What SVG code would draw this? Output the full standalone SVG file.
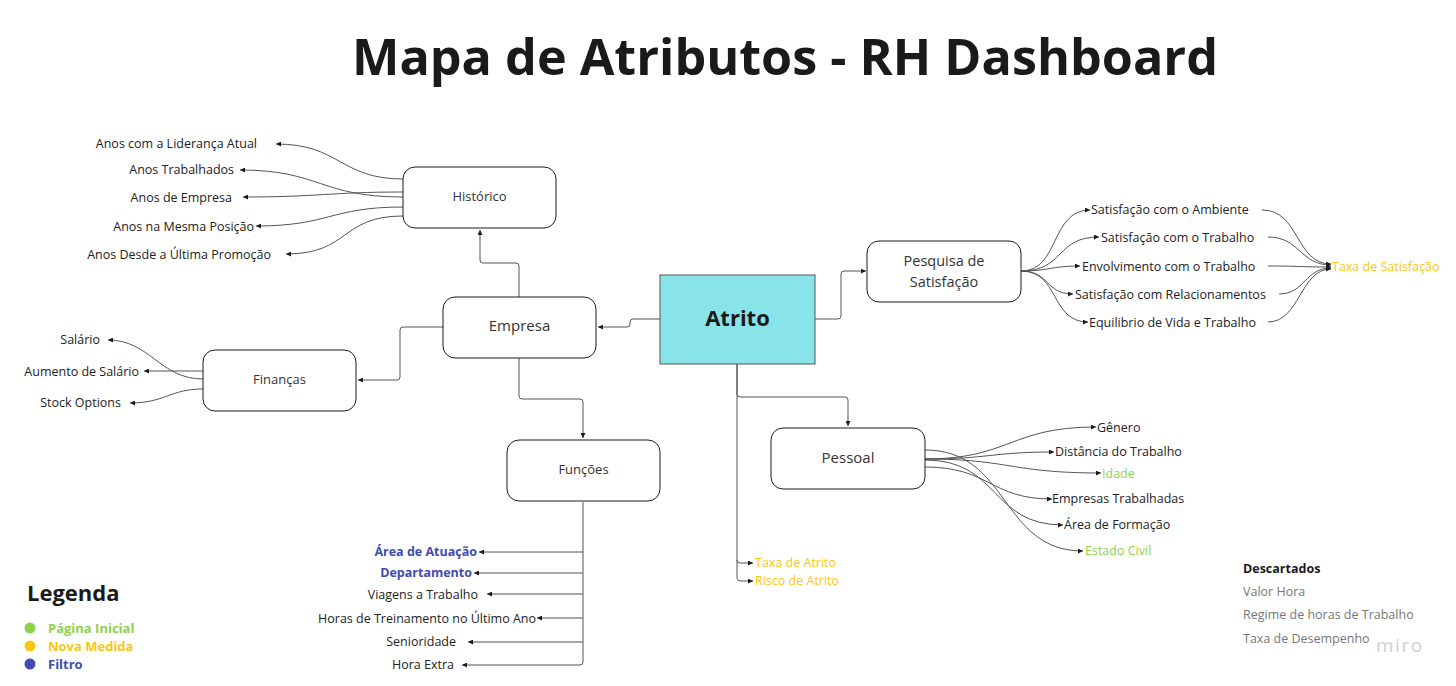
<svg xmlns="http://www.w3.org/2000/svg" width="1456" height="686" viewBox="0 0 1456 686">
<defs>
<marker id="ah" viewBox="0 0 6 6" refX="6" refY="3" markerWidth="5" markerHeight="5" orient="auto" markerUnits="userSpaceOnUse">
<path d="M0,0 L6,3 L0,6 Z" fill="#1a1a1a"/>
</marker>
<style>
text{font-family:"Open Sans","Noto Sans","Liberation Sans",sans-serif;fill:#1a1a1a}
.node rect{fill:#fff;stroke:#1a1a1a;stroke-width:1}
.lbl{font-size:12.5px;fill:#222}
.nt{font-size:13px;text-anchor:middle;fill:#333}
.c{fill:none;stroke:#555;stroke-width:1}
.ca{fill:none;stroke:#555;stroke-width:1;marker-end:url(#ah)}
.y{fill:#FAC710}
.g{fill:#8FD14F}
.b{fill:#414BB2;font-weight:bold}
.gr{fill:#777;font-size:12.5px}
.wm{fill:#cfcfcf;font-size:19px;letter-spacing:1.5px}
</style>
</defs>
<rect width="1456" height="686" fill="#fff"/>
<text x="785" y="75" text-anchor="middle" font-size="50.3" font-weight="bold" fill="#1a1a1a">Mapa de Atributos - RH Dashboard</text>

<g id="connectors">
<path class="ca" d="M660,319 H633 Q630,319 630,322 V324 Q630,327 627,327 H598"/>
<path class="ca" d="M815,319 H838 Q841,319 841,316 V274 Q841,271 844,271 H866"/>
<path class="ca" d="M519,297 V266 Q519,263 516,263 H483 Q480,263 480,260 V230"/>
<path class="ca" d="M443,327 H403 Q400,327 400,330 V377 Q400,380 397,380 H358"/>
<path class="ca" d="M519,358 V396 Q519,399 522,399 H580 Q583,399 583,402 V438"/>
<path class="ca" d="M737,364 V394 Q737,397 740,397 H845 Q848,397 848,400 V426"/>
<path class="c" d="M737,364 V578"/>
<path class="ca" d="M737,560 Q737,563 740,563 H753"/>
<path class="ca" d="M737,578 Q737,581 740,581 H753"/>
<path class="ca" d="M403,179 C340,179 340,144 276,144"/>
<path class="ca" d="M403,197 C320,197 320,170 240,170"/>
<path class="ca" d="M403,192 C330,192 320,197 243,197"/>
<path class="ca" d="M403,207 C330,207 330,226 256,226"/>
<path class="ca" d="M403,216 C340,216 350,254 286,254"/>
<path class="ca" d="M203,379 C160,379 150,340 108,340"/>
<path class="ca" d="M203,371 H144"/>
<path class="ca" d="M203,389 C170,389 165,403 130,403"/>
<path class="ca" d="M583,502 V662 Q583,665 580,665 H462"/>
<path class="ca" d="M583,552 H479"/>
<path class="ca" d="M583,573 H474"/>
<path class="ca" d="M583,594 H487"/>
<path class="ca" d="M583,618 H537"/>
<path class="ca" d="M583,642 H468"/>
<path class="ca" d="M1021,271 C1060,271 1050,210 1090,210"/>
<path class="ca" d="M1021,271 C1065,271 1055,237 1099,237"/>
<path class="ca" d="M1021,271 C1050,271 1050,266 1080,266"/>
<path class="ca" d="M1021,271 C1050,271 1045,294 1073,294"/>
<path class="ca" d="M1021,271 C1060,271 1050,322 1088,322"/>
<path class="ca" d="M1262,210 C1300,210 1295,264 1331,264"/>
<path class="ca" d="M1268,237 C1300,237 1300,265 1331,265"/>
<path class="ca" d="M1268,266 C1300,266 1300,267 1331,267"/>
<path class="ca" d="M1279,294 C1305,294 1305,268 1331,268"/>
<path class="ca" d="M1268,322 C1300,322 1300,269 1331,269"/>
<path class="ca" d="M925,459 C1010,459 1010,427 1096,427"/>
<path class="ca" d="M925,459 C990,459 990,452 1054,452"/>
<path class="ca" d="M925,459 C1010,459 1010,473 1101,473"/>
<path class="ca" d="M925,467 C990,467 990,499 1052,499"/>
<path class="ca" d="M925,460 C1000,460 990,525 1063,525"/>
<path class="ca" d="M925,450 C1010,450 1000,551 1083,551"/>
</g>

<g id="atrito">
<rect x="660" y="275" width="155" height="89" fill="#88E4E9" stroke="#555" stroke-width="1"/>
<text x="737.5" y="326" text-anchor="middle" font-size="22" font-weight="bold">Atrito</text>
</g>
<g id="historico" class="node">
<rect x="403" y="167" width="153" height="61" rx="12"/>
<text class="nt" x="479.5" y="201">Histórico</text>
</g>
<g id="empresa" class="node">
<rect x="443" y="297" width="153" height="61" rx="12"/>
<text class="nt" x="519.5" y="331" style="font-size:15px">Empresa</text>
</g>
<g id="financas" class="node">
<rect x="203" y="350" width="153" height="61" rx="12"/>
<text class="nt" x="279.5" y="384">Finanças</text>
</g>
<g id="funcoes" class="node">
<rect x="507" y="440" width="153" height="61" rx="12"/>
<text class="nt" x="583.5" y="474">Funções</text>
</g>
<g id="pesquisa" class="node">
<rect x="867" y="241" width="154" height="61" rx="12"/>
<text class="nt" x="944" y="266" style="font-size:14.5px">Pesquisa de</text>
<text class="nt" x="944" y="287" style="font-size:14.5px">Satisfação</text>
</g>
<g id="pessoal" class="node">
<rect x="771" y="428" width="154" height="61" rx="12"/>
<text class="nt" x="848" y="463" style="font-size:15px">Pessoal</text>
</g>

<g id="historico-items" text-anchor="end">
<text class="lbl" x="257" y="148">Anos com a Liderança Atual</text>
<text class="lbl" x="234" y="174">Anos Trabalhados</text>
<text class="lbl" x="232" y="202">Anos de Empresa</text>
<text class="lbl" x="254" y="231">Anos na Mesma Posição</text>
<text class="lbl" x="271" y="259">Anos Desde a Última Promoção</text>
</g>
<g id="financas-items" text-anchor="end">
<text class="lbl" x="100" y="344">Salário</text>
<text class="lbl" x="139" y="376">Aumento de Salário</text>
<text class="lbl" x="121" y="407">Stock Options</text>
</g>
<g id="funcoes-items" text-anchor="end">
<text class="lbl b" x="477" y="556">Área de Atuação</text>
<text class="lbl b" x="472" y="577">Departamento</text>
<text class="lbl" x="478" y="599">Viagens a Trabalho</text>
<text class="lbl" x="536" y="623">Horas de Treinamento no Último Ano</text>
<text class="lbl" x="456" y="646">Senioridade</text>
<text class="lbl" x="454" y="669">Hora Extra</text>
</g>
<g id="pesquisa-items">
<text class="lbl" x="1091" y="214">Satisfação com o Ambiente</text>
<text class="lbl" x="1101" y="242">Satisfação com o Trabalho</text>
<text class="lbl" x="1082" y="271">Envolvimento com o Trabalho</text>
<text class="lbl" x="1075" y="299">Satisfação com Relacionamentos</text>
<text class="lbl" x="1089" y="327">Equilibrio de Vida e Trabalho</text>
<text class="lbl y" x="1332" y="271">Taxa de Satisfação</text>
</g>
<g id="pessoal-items">
<text class="lbl" x="1097" y="432">Gênero</text>
<text class="lbl" x="1055" y="456">Distância do Trabalho</text>
<text class="lbl g" x="1102" y="478">Idade</text>
<text class="lbl" x="1052" y="503">Empresas Trabalhadas</text>
<text class="lbl" x="1064" y="529">Área de Formação</text>
<text class="lbl g" x="1085" y="555">Estado Civil</text>
</g>
<g id="atrito-items">
<text class="lbl y" x="755" y="567">Taxa de Atrito</text>
<text class="lbl y" x="755" y="585">Risco de Atrito</text>
</g>

<g id="legenda">
<text x="27" y="601" font-size="22" font-weight="bold">Legenda</text>
<circle cx="30" cy="628" r="5.5" fill="#8FD14F"/>
<circle cx="30" cy="646" r="5.5" fill="#FAC710"/>
<circle cx="30" cy="664" r="5.5" fill="#414BB2"/>
<text x="48" y="633" font-size="13" font-weight="bold" class="g">Página Inicial</text>
<text x="48" y="651" font-size="13" font-weight="bold" class="y">Nova Medida</text>
<text x="48" y="669" font-size="13" font-weight="bold" class="b">Filtro</text>
</g>
<g id="descartados">
<text x="1243" y="573" font-size="12.5" font-weight="bold" fill="#222">Descartados</text>
<text class="gr" x="1243" y="596">Valor Hora</text>
<text class="gr" x="1243" y="619">Regime de horas de Trabalho</text>
<text class="gr" x="1243" y="643">Taxa de Desempenho</text>
<text class="wm" x="1376" y="652">miro</text>
</g>
</svg>
